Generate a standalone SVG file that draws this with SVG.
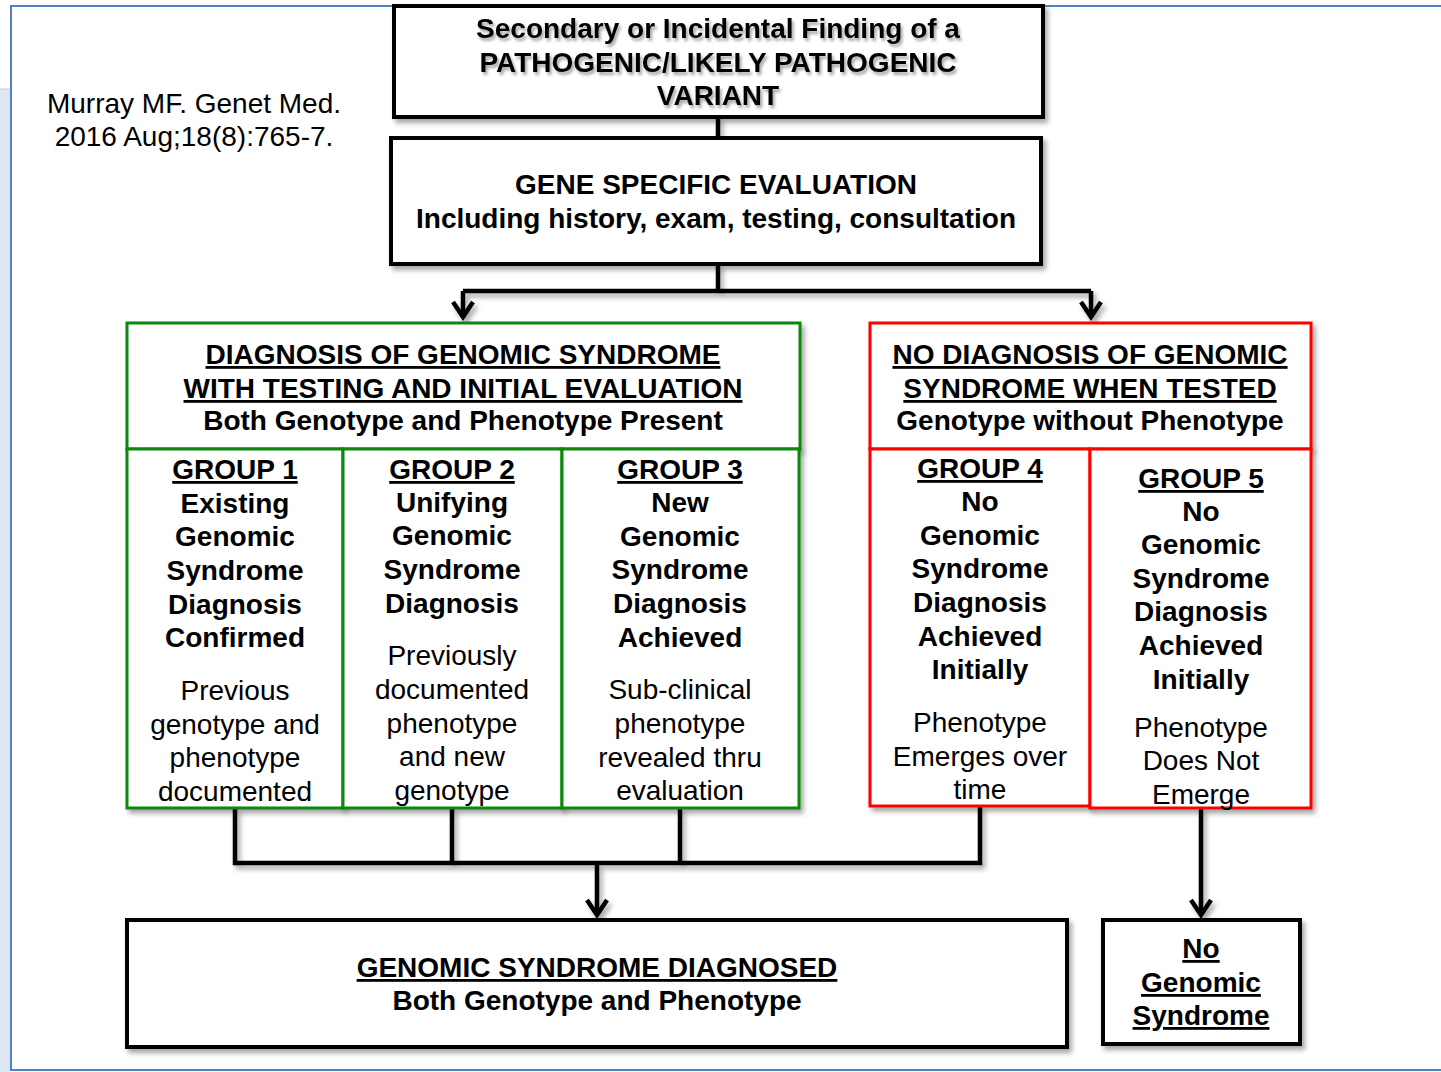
<svg xmlns="http://www.w3.org/2000/svg" width="1441" height="1072" viewBox="0 0 1441 1072">
<defs>
<filter id="sh" x="-5%" y="-5%" width="115%" height="120%">
<feDropShadow dx="3" dy="4" stdDeviation="2.5" flood-color="#000" flood-opacity="0.35"/>
</filter>
<filter id="tsh" x="-5%" y="-20%" width="110%" height="150%">
<feDropShadow dx="2" dy="3" stdDeviation="1.5" flood-color="#000" flood-opacity="0.35"/>
</filter>
<marker id="chev" markerUnits="userSpaceOnUse" orient="auto" refX="0" refY="0" markerWidth="40" markerHeight="40" viewBox="-20 -20 40 40" overflow="visible">
<path d="M-15,-10 L0,0 L-15,10" fill="none" stroke="#000" stroke-width="4.5" stroke-linejoin="miter"/>
</marker>
</defs>
<style>
text{font-family:"Liberation Sans",Arial,sans-serif;font-size:28px;fill:#000;text-anchor:middle}
.b{font-weight:bold}
.u{text-decoration:underline}
.blk{fill:#fff;stroke:#000;stroke-width:4}
.grn{fill:#fff;stroke:#0b870b;stroke-width:3}
.red{fill:#fff;stroke:#ff0000;stroke-width:3}
.con{fill:none;stroke:#000;stroke-width:4.5}
</style>
<rect x="0" y="0" width="1441" height="1072" fill="#fff"/>
<rect x="0" y="89" width="10" height="983" fill="#dde6f2"/>
<line x1="0" y1="89" x2="10" y2="89" stroke="#c8c8c8" stroke-width="1"/>
<rect x="11" y="6" width="1440" height="1064" fill="#fff" stroke="#4f81c8" stroke-width="2"/>

<g id="citation">
<text x="194" y="113">Murray MF. Genet Med.</text>
<text x="194" y="146">2016 Aug;18(8):765-7.</text>
</g>

<g id="connectors" filter="url(#sh)">
<path class="con" d="M718,117 V138"/>
<path class="con" d="M718,264 V291"/>
<path class="con" d="M463,291 H1091"/>
<path class="con" d="M463,291 V317" marker-end="url(#chev)"/>
<path class="con" d="M1091,291 V317" marker-end="url(#chev)"/>
<path class="con" d="M235,808 V863 H980 V806"/>
<path class="con" d="M452,808 V863"/>
<path class="con" d="M680,808 V863"/>
<path class="con" d="M597,863 V915" marker-end="url(#chev)"/>
<path class="con" d="M1201,808 V915" marker-end="url(#chev)"/>
</g>

<g id="finding">
<rect class="blk" x="394" y="6" width="649" height="111" filter="url(#sh)"/>
<g filter="url(#tsh)">
<text class="b" x="718" y="38">Secondary or Incidental Finding of a</text>
<text class="b" x="718" y="72">PATHOGENIC/LIKELY PATHOGENIC</text>
<text class="b" x="718" y="105">VARIANT</text>
</g>
</g>

<g id="gene-eval">
<rect class="blk" x="391" y="138" width="650" height="126" filter="url(#sh)"/>
<text class="b" x="716" y="194">GENE SPECIFIC EVALUATION</text>
<text class="b" x="716" y="228">Including history, exam, testing, consultation</text>
</g>

<g id="diag-header">
<rect class="grn" x="127" y="323" width="673" height="126" filter="url(#sh)"/>
<text class="b u" x="463" y="364">DIAGNOSIS OF GENOMIC SYNDROME</text>
<text class="b u" x="463" y="398">WITH TESTING AND INITIAL EVALUATION</text>
<text class="b" x="463" y="430">Both Genotype and Phenotype Present</text>
</g>

<g id="group1">
<rect class="grn" x="127" y="449" width="216" height="359" filter="url(#sh)"/>
<text class="b u" x="235" y="479">GROUP 1</text>
<text class="b" x="235" y="513">Existing</text>
<text class="b" x="235" y="546">Genomic</text>
<text class="b" x="235" y="580">Syndrome</text>
<text class="b" x="235" y="614">Diagnosis</text>
<text class="b" x="235" y="647">Confirmed</text>
<text x="235" y="700">Previous</text>
<text x="235" y="734">genotype and</text>
<text x="235" y="767">phenotype</text>
<text x="235" y="801">documented</text>
</g>

<g id="group2">
<rect class="grn" x="343" y="449" width="219" height="359" filter="url(#sh)"/>
<text class="b u" x="452" y="479">GROUP 2</text>
<text class="b" x="452" y="512">Unifying</text>
<text class="b" x="452" y="545">Genomic</text>
<text class="b" x="452" y="579">Syndrome</text>
<text class="b" x="452" y="613">Diagnosis</text>
<text x="452" y="665">Previously</text>
<text x="452" y="699">documented</text>
<text x="452" y="733">phenotype</text>
<text x="452" y="766">and new</text>
<text x="452" y="800">genotype</text>
</g>

<g id="group3">
<rect class="grn" x="562" y="449" width="237" height="359" filter="url(#sh)"/>
<text class="b u" x="680" y="479">GROUP 3</text>
<text class="b" x="680" y="512">New</text>
<text class="b" x="680" y="546">Genomic</text>
<text class="b" x="680" y="579">Syndrome</text>
<text class="b" x="680" y="613">Diagnosis</text>
<text class="b" x="680" y="647">Achieved</text>
<text x="680" y="699">Sub-clinical</text>
<text x="680" y="733">phenotype</text>
<text x="680" y="767">revealed thru</text>
<text x="680" y="800">evaluation</text>
</g>

<g id="nodiag-header">
<rect class="red" x="870" y="323" width="441" height="126" filter="url(#sh)"/>
<text class="b u" x="1090" y="364">NO DIAGNOSIS OF GENOMIC</text>
<text class="b u" x="1090" y="398">SYNDROME WHEN TESTED</text>
<text class="b" x="1090" y="430">Genotype without Phenotype</text>
</g>

<g id="group4">
<rect class="red" x="870" y="449" width="220" height="357" filter="url(#sh)"/>
<text class="b u" x="980" y="478">GROUP 4</text>
<text class="b" x="980" y="511">No</text>
<text class="b" x="980" y="545">Genomic</text>
<text class="b" x="980" y="578">Syndrome</text>
<text class="b" x="980" y="612">Diagnosis</text>
<text class="b" x="980" y="646">Achieved</text>
<text class="b" x="980" y="679">Initially</text>
<text x="980" y="732">Phenotype</text>
<text x="980" y="766">Emerges over</text>
<text x="980" y="799">time</text>
</g>

<g id="group5">
<rect class="red" x="1090" y="449" width="221" height="359" filter="url(#sh)"/>
<text class="b u" x="1201" y="488">GROUP 5</text>
<text class="b" x="1201" y="521">No</text>
<text class="b" x="1201" y="554">Genomic</text>
<text class="b" x="1201" y="588">Syndrome</text>
<text class="b" x="1201" y="621">Diagnosis</text>
<text class="b" x="1201" y="655">Achieved</text>
<text class="b" x="1201" y="689">Initially</text>
<text x="1201" y="737">Phenotype</text>
<text x="1201" y="770">Does Not</text>
<text x="1201" y="804">Emerge</text>
</g>

<g id="diagnosed">
<rect class="blk" x="127" y="920" width="940" height="127" filter="url(#sh)"/>
<text class="b u" x="597" y="977">GENOMIC SYNDROME DIAGNOSED</text>
<text class="b" x="597" y="1010">Both Genotype and Phenotype</text>
</g>

<g id="no-syndrome">
<rect class="blk" x="1103" y="920" width="197" height="124" filter="url(#sh)"/>
<text class="b u" x="1201" y="958">No</text>
<text class="b u" x="1201" y="992">Genomic</text>
<text class="b u" x="1201" y="1025">Syndrome</text>
</g>
</svg>
